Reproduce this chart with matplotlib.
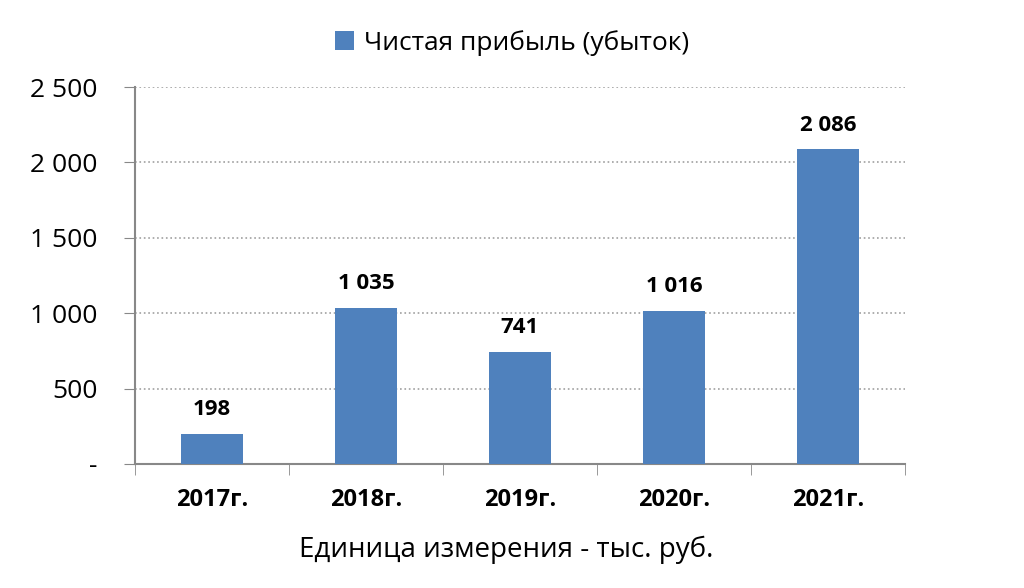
import numpy as np
import matplotlib.pyplot as plt
from matplotlib.ticker import FuncFormatter, FixedLocator

# data
years = ['2017г.', '2018г.', '2019г.', '2020г.', '2021г.']
profit = [198, 1035, 741, 1016, 2086]
series_name = 'Чистая прибыль (убыток)'
unit_label = 'Единица измерения - тыс. руб.'

plt.rcParams['font.family'] = ['Open Sans', 'DejaVu Sans']

fig = plt.figure(figsize=(10.24, 5.88), dpi=100)
ax = fig.add_axes([0.1318, 0.2109, 0.752, 0.641])

x = np.arange(len(years))
ax.bar(x, profit, width=0.4, color='#4f81bd', label=series_name, zorder=3)

#thousands with a space, like "2 086"
def fmt(v):
    return '{:,}'.format(int(v)).replace(',', ' ')

# value labels on top of bars
for xi, v in zip(x, profit):
    ax.annotate(fmt(v), (xi, v), xytext=(0, 10), textcoords='offset points',
                ha='center', va='bottom', fontsize=16, fontweight='bold')

ax.set_xlim(-0.5, len(years) - 0.5)
ax.set_ylim(0, 2500)
ax.set_yticks(np.arange(0, 2501, 500))
ax.yaxis.set_major_formatter(FuncFormatter(lambda v, p: '-' if v == 0 else fmt(v)))
ax.tick_params(axis='y', labelsize=19, length=8, color='#888888', pad=19)

#labels in the middle, tick marks between categories
ax.set_xticks(x)
ax.set_xticklabels(years, fontsize=17, fontweight='bold')
ax.tick_params(axis='x', length=0, pad=17)
ax.xaxis.set_minor_locator(FixedLocator(np.arange(-0.5, len(years), 1)))
ax.tick_params(axis='x', which='minor', length=8, color='#888888')

ax.grid(axis='y', linestyle=':', color='#a0a0a0', linewidth=1.2, zorder=0)
for s in ['top', 'right']:
    ax.spines[s].set_visible(False)
for s in ['left', 'bottom']:
    ax.spines[s].set_color('#888888')
    ax.spines[s].set_linewidth(1.5)

fig.text(0.494, 1 - 550 / 588, unit_label, fontsize=20, ha='center', va='center')

ax.legend(loc='lower center', bbox_to_anchor=(0.49, 1.02), frameon=False,
          fontsize=19, handlelength=0.7, handleheight=0.7, handletextpad=0.4)

fig.savefig('out.png', dpi=100)
